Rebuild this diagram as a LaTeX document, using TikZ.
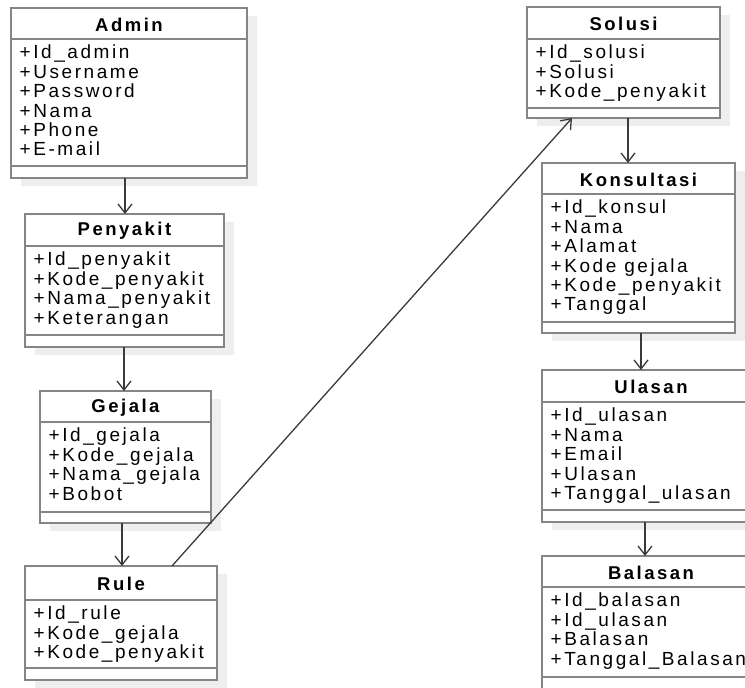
\documentclass[tikz,border=0pt]{standalone}
\usepackage{fontspec}
\usetikzlibrary{arrows.meta}
\newfontfamily\diafont[LetterSpace=13.5]{Liberation Sans}
\definecolor{boxline}{HTML}{858585}
\definecolor{shadowc}{HTML}{EEEEEE}
\definecolor{conn}{HTML}{3A3A3A}
\tikzset{
  classbox/.style={draw=boxline, line width=2.4pt, fill=white, inner sep=0pt, outer sep=0pt, anchor=north west},
  sepline/.style={draw=boxline, line width=1.8pt},
  titletext/.style={font=\diafont\fontsize{18.5}{19.4}\selectfont\bfseries, inner sep=0pt},
  itemtext/.style={font=\diafont\fontsize{19}{19.4}\selectfont, align=left, inner sep=0pt, anchor=north west},
  assoc/.style={draw=conn, line width=1.3pt, -{Straight Barb[length=9pt,width=14pt,line width=1.3pt]}},
}
\newcommand\umlclass[9]{%
  \fill[shadowc] (#2+10,#3+8) rectangle (#4+10,#5+8);
  \node[classbox, minimum width={(#4-#2)*1pt}, minimum height={(#5-#3)*1pt}] (#1) at (#2,#3) {};
  \draw[sepline] (#2,#6) -- (#4,#6);
  \draw[sepline] (#2,#7) -- (#4,#7);
  \node[titletext] (#1-t) at ({(#2+#4)/2},{(#3+#6)/2+1}) {#8};
  \node[itemtext] (#1-a) at (#2+8.5,#6+6) {#9};
}
\begin{document}
\begin{tikzpicture}[x=1pt,y=-1pt]
\useasboundingbox (0,0) rectangle (745,688);
\clip (0,0) rectangle (745,688);
\umlclass{admin}{11}{8}{247}{178}{39}{166}{Admin}{+Id\_admin\\+Username\\+Password\\+Nama\\+Phone\\+E-mail}
\umlclass{penyakit}{25}{214}{224}{347}{246}{335}{Penyakit}{+Id\_penyakit\\+Kode\_penyakit\\+Nama\_penyakit\\+Keterangan}
\umlclass{gejala}{40}{391}{211}{523}{422}{512}{Gejala}{+Id\_gejala\\+Kode\_gejala\\+Nama\_gejala\\+Bobot}
\umlclass{rule}{25}{566}{217}{680}{600}{668}{Rule}{+Id\_rule\\+Kode\_gejala\\+Kode\_penyakit}
\umlclass{solusi}{527}{7}{720}{118}{39}{108}{Solusi}{+Id\_solusi\\+Solusi\\+Kode\_penyakit}
\umlclass{konsultasi}{542}{163}{735}{333}{194}{322}{Konsultasi}{+Id\_konsul\\+Nama\\+Alamat\\+Kode gejala\\+Kode\_penyakit\\+Tanggal}
\umlclass{ulasan}{542}{370}{760}{522}{402}{510}{Ulasan}{+Id\_ulasan\\+Nama\\+Email\\+Ulasan\\+Tanggal\_ulasan}
\umlclass{balasan}{542}{556}{760}{705}{587}{677}{Balasan}{+Id\_balasan\\+Id\_ulasan\\+Balasan\\+Tanggal\_Balasan}
\coordinate (xa) at (125,0);
\coordinate (xb) at (124,0);
\coordinate (xc) at (122,0);
\coordinate (xr) at (172,0);
\coordinate (xs) at (572,0);
\coordinate (xk) at (628,0);
\coordinate (xu) at (641,0);
\coordinate (xl) at (645,0);
\draw[assoc] (admin.south -| xa) -- (penyakit.north -| xa);
\draw[assoc] (penyakit.south -| xb) -- (gejala.north -| xb);
\draw[assoc] (gejala.south -| xc) -- (rule.north -| xc);
\draw[assoc] (rule.north -| xr) -- (solusi.south -| xs);
\draw[assoc] (solusi.south -| xk) -- (konsultasi.north -| xk);
\draw[assoc] (konsultasi.south -| xu) -- (ulasan.north -| xu);
\draw[assoc] (ulasan.south -| xl) -- (balasan.north -| xl);
\end{tikzpicture}
\end{document}
